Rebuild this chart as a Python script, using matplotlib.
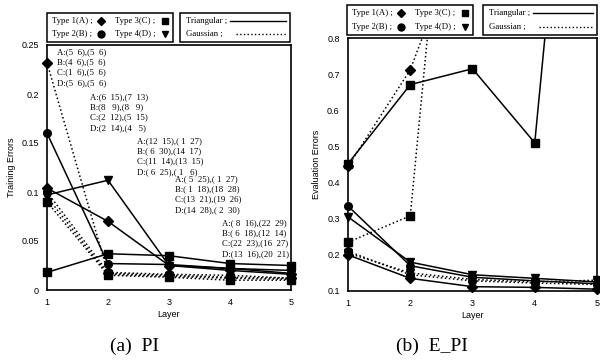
import numpy as np
import matplotlib
matplotlib.use('Agg')
import matplotlib.pyplot as plt
from matplotlib.lines import Line2D
from matplotlib.patches import Rectangle

# ---------------- data ----------------
layers = [1, 2, 3, 4, 5]
type_labels = ['Type 1(A) ;', 'Type 2(B) ;', 'Type 3(C) ;', 'Type 4(D) ;']
type_markers = ['D', 'o', 's', 'v']
mf_labels = ['Triangular ;', 'Gaussian ;']
mf_styles = ['-', ':']

# (a) PI - training errors
train_tri_A = [0.104, 0.070, 0.025, 0.020, 0.016]
train_tri_B = [0.160, 0.027, 0.026, 0.022, 0.020]
train_tri_C = [0.018, 0.037, 0.035, 0.027, 0.025]
train_tri_D = [0.097, 0.112, 0.025, 0.022, 0.017]
train_gau_A = [0.232, 0.017, 0.015, 0.013, 0.012]
train_gau_B = [0.100, 0.018, 0.016, 0.015, 0.012]
train_gau_C = [0.090, 0.015, 0.013, 0.010, 0.010]
train_gau_D = [0.095, 0.016, 0.014, 0.012, 0.011]

# (b) E_PI - evaluation errors
eval_tri_A = [0.200, 0.135, 0.112, 0.110, 0.105]
eval_tri_B = [0.335, 0.170, 0.138, 0.128, 0.120]
eval_tri_C = [0.452, 0.671, 0.715, 0.510, 2.30]
eval_tri_D = [0.305, 0.180, 0.145, 0.135, 0.125]
eval_gau_A = [0.445, 0.712, 1.17, np.nan, np.nan]
eval_gau_B = [0.210, 0.145, 0.128, 0.122, 0.118]
eval_gau_C = [0.235, 0.308, 2.10, np.nan, np.nan]
eval_gau_D = [0.205, 0.150, 0.132, 0.125, 0.130]

# annotation blocks on (a)
ann_block1 = ['A:(5  6),(5  6)', 'B:(4  6),(5  6)', 'C:(1  6),(5  6)', 'D:(5  6),(5  6)']
ann_block2 = ['A:(6  15),(7  13)', 'B:(8   9),(8   9)', 'C:(2  12),(5  15)', 'D:(2  14),(4   5)']
ann_block3 = ['A:(12  15),( 1  27)', 'B:( 6  30),(14  17)', 'C:(11  14),(13  15)', 'D:( 6  25),( 1   6)']
ann_block4 = ['A:( 5  25),( 1  27)', 'B:( 1  18),(18  28)', 'C:(13  21),(19  26)', 'D:(14  28),( 2  30)']
ann_block5 = ['A:( 8  16),(22  29)', 'B:( 6  18),(12  14)', 'C:(22  23),(16  27)', 'D:(13  16),(20  21)']

train_ticks = [0, 0.05, 0.1, 0.15, 0.2, 0.25]
train_ticklabels = ['0', '0.05', '0.1', '0.15', '0.2', '0.25']
eval_ticks = [0.1, 0.2, 0.3, 0.4, 0.5, 0.6, 0.7, 0.8]
eval_ticklabels = ['0.1', '0.2', '0.3', '0.4', '0.5', '0.6', '0.7', '0.8']

# ---------------- figure ----------------
W, H = 600, 360
fig = plt.figure(figsize=(6, 3.6), dpi=100)
SANS = 'Liberation Sans'
SERIF = 'Liberation Serif'


def fx(x):
    return x / W


def fy(y):
    return 1 - y / H


def px(x0, y0, x1, y1):
    return [x0 / W, 1 - y1 / H, (x1 - x0) / W, (y1 - y0) / H]


ax1 = fig.add_axes(px(47, 45, 291, 290))
ax2 = fig.add_axes(px(348, 38, 597, 291))


def draw(ax, tri, gau, ylim):
    for series, ls in [(tri, '-'), (gau, ':')]:
        for vals, mk in zip(series, type_markers):
            v = np.array(vals, dtype=float)
            ax.plot(layers, v, linestyle=ls, color='black', lw=1.1, zorder=3)
            mv = np.ma.masked_where(~(v <= ylim[1]), v)
            ax.plot(layers, mv, linestyle='none', marker=mk, color='black',
                    ms=5.5 if mk != 'D' else 4.8, clip_on=False, zorder=4)
    ax.set_xlim(1, 5)
    ax.set_ylim(*ylim)
    ax.set_xticks(layers)
    ax.set_xticklabels([str(l) for l in layers], fontsize=6.5, family=SANS)
    ax.tick_params(length=0, pad=6)
    for s in ax.spines.values():
        s.set_linewidth(1.2)
    ax.set_xlabel('Layer', fontsize=6.5, family=SANS, labelpad=2)


draw(ax1, [train_tri_A, train_tri_B, train_tri_C, train_tri_D],
     [train_gau_A, train_gau_B, train_gau_C, train_gau_D], (0, 0.25))
ax1.set_yticks(train_ticks)
ax1.set_yticklabels(train_ticklabels, fontsize=6.5, family=SANS)
ax1.set_ylabel('Training Errors', fontsize=6.5, family=SANS, labelpad=4)

draw(ax2, [eval_tri_A, eval_tri_B, eval_tri_C, eval_tri_D],
     [eval_gau_A, eval_gau_B, eval_gau_C, eval_gau_D], (0.1, 0.8))
ax2.set_yticks(eval_ticks)
ax2.set_yticklabels(eval_ticklabels, fontsize=6.5, family=SANS)
ax2.set_ylabel('Evaluation Errors', fontsize=6.5, family=SANS, labelpad=4)

# annotation blocks (pixel positions of first line)
blocks = [(ann_block1, 57, 52), (ann_block2, 90, 97), (ann_block3, 137, 141),
          (ann_block4, 175, 179), (ann_block5, 222, 223)]
for lines, x0, y0 in blocks:
    for i, t in enumerate(lines):
        fig.text(fx(x0), fy(y0 + i * 10.3), t, fontsize=6.3, family=SERIF,
                 va='center', ha='left')


# legends drawn manually (label, then symbol)
def legend_boxes(box1, box2):
    x0, y0, x1, y1 = box1
    fig.add_artist(Rectangle((fx(x0), fy(y1)), fx(x1) - fx(x0), fy(y0) - fy(y1),
                             transform=fig.transFigure, fill=False,
                             edgecolor='black', lw=1.1))
    rows = [y0 + (y1 - y0) * 0.28, y0 + (y1 - y0) * 0.73]
    cols = [(x0 + 5, x0 + 54), (x0 + 68, x0 + 118)]
    for k, (lab, mk) in enumerate(zip(type_labels, type_markers)):
        c, r = k // 2, k % 2
        fig.text(fx(cols[c][0]), fy(rows[r]), lab, fontsize=6.3, family=SERIF,
                 va='center', ha='left')
        fig.add_artist(Line2D([fx(cols[c][1])], [fy(rows[r])], marker=mk,
                              color='black', linestyle='none',
                              ms=5 if mk != 'D' else 4.5,
                              transform=fig.transFigure))
    x0, y0, x1, y1 = box2
    fig.add_artist(Rectangle((fx(x0), fy(y1)), fx(x1) - fx(x0), fy(y0) - fy(y1),
                             transform=fig.transFigure, fill=False,
                             edgecolor='black', lw=1.1))
    for r, (lab, ls) in enumerate(zip(mf_labels, mf_styles)):
        fig.text(fx(x0 + 6), fy(rows[r]), lab, fontsize=6.3, family=SERIF,
                 va='center', ha='left')
        xs = x0 + (50 if r == 0 else 56)
        fig.add_artist(Line2D([fx(xs), fx(x1 - 4)], [fy(rows[r]), fy(rows[r])],
                              color='black', linestyle=ls, lw=1.0,
                              transform=fig.transFigure))


legend_boxes((47, 13, 173, 42), (180, 13, 290, 42))
legend_boxes((347, 5, 473, 35), (483, 5, 597, 35))

# captions
fig.text(135 / W, 1 - 346 / H, '(a)  PI', fontsize=14, family=SERIF,
         ha='center', va='center')
fig.text(432 / W, 1 - 346 / H, '(b)  E_PI', fontsize=14, family=SERIF,
         ha='center', va='center')

fig.savefig('out.png', dpi=100)
